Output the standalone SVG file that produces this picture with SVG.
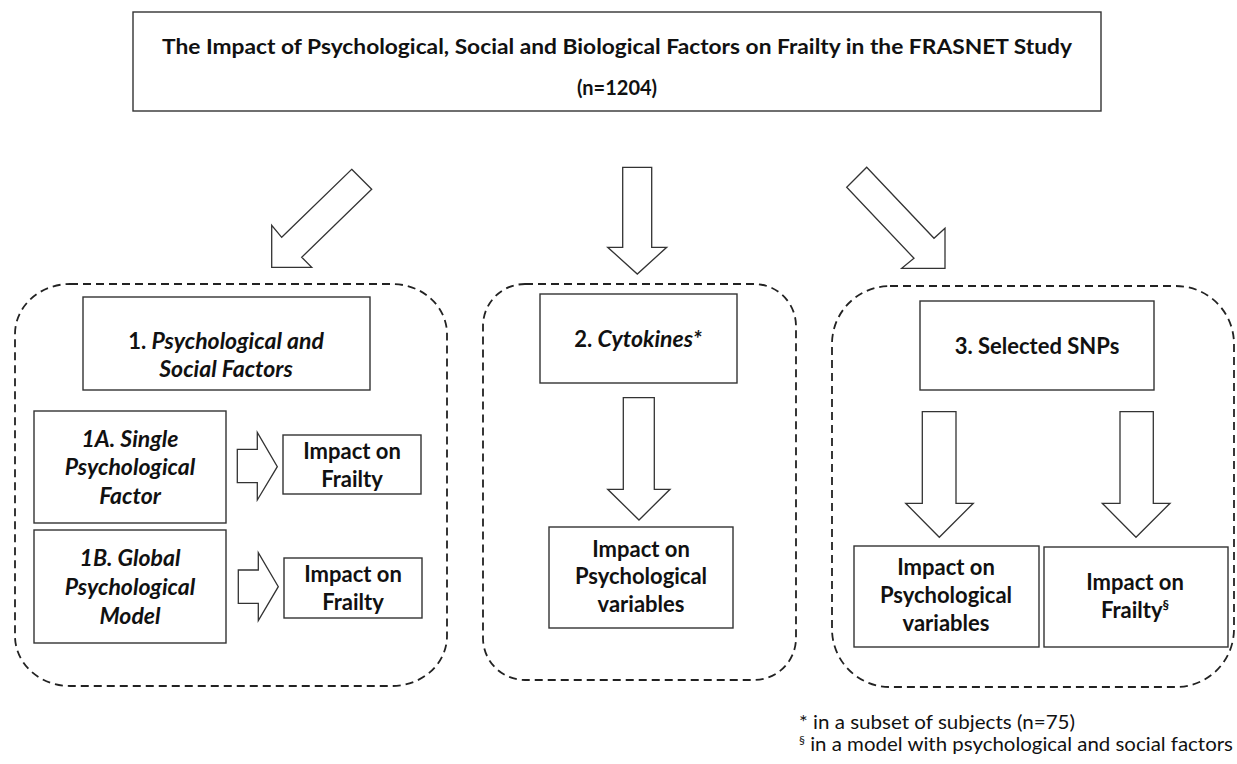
<svg xmlns="http://www.w3.org/2000/svg" width="1237" height="764" viewBox="0 0 1237 764">
<style>
  .box { fill: #fff; stroke: #333; stroke-width: 1.4; }
  .group { fill: none; stroke: #222; stroke-width: 1.8; stroke-dasharray: 8 5; }
  .arrow { fill: #fff; stroke: #333; stroke-width: 1.3; stroke-linejoin: miter; }
  text { font-family: Lato, "Liberation Sans", sans-serif; fill: #111; text-anchor: middle; }
  .t { font-size: 20px; font-weight: bold; }
  .n { font-size: 22px; font-weight: bold; }
  .ni { font-size: 23px; font-weight: bold; font-style: italic; }
  .fn { font-size: 19px; text-anchor: start; }
</style>
<rect width="1237" height="764" fill="#fff"/>

<g id="groups">
  <rect class="group" x="15" y="284" width="432" height="402" rx="55" ry="50"/>
  <rect class="group" x="483" y="284" width="313" height="396" rx="42" ry="42"/>
  <rect class="group" x="832" y="286" width="402" height="401" rx="58" ry="58"/>
</g>

<g id="title">
  <rect class="box" x="133" y="12" width="968" height="99"/>
  <text class="t" x="617" y="54" textLength="910" lengthAdjust="spacingAndGlyphs">The Impact of Psychological, Social and Biological Factors on Frailty in the FRASNET Study</text>
  <text class="t" x="617" y="95">(n=1204)</text>
</g>

<g id="connectors">
  <polygon class="arrow" points="351.7,169.3 371.7,189.3 301.7,257.3 311.7,267.3 271.7,267.3 271.7,225.3 281.7,237.3"/>
  <polygon class="arrow" points="622.7,167.3 651.7,167.3 651.7,247.3 666.7,247.3 637.3,274 607.7,247.3 622.7,247.3"/>
  <polygon class="arrow" points="866.7,167.3 934,238.3 945,228.3 945,268.3 901.7,268.3 914,258.3 846.7,187.3"/>
  <polygon class="arrow" points="237.3,449.3 257.3,449.3 257.3,432.3 277.3,466.7 257.3,500 257.3,482.7 237.3,482.7"/>
  <polygon class="arrow" points="238.3,570 258.3,570 258.3,552.7 278.3,586.7 258.3,620.7 258.3,603.3 238.3,603.3"/>
  <polygon class="arrow" points="623.3,397.7 654.3,397.7 654.3,489.3 670,489.3 639,520 607.7,489.3 623.3,489.3"/>
  <polygon class="arrow" points="922.3,411.7 956,411.7 956,503.3 973.3,503.3 939.3,537.3 905.7,503.3 922.3,503.3"/>
  <polygon class="arrow" points="1120,411.7 1153.3,411.7 1153.3,503.3 1170,503.3 1136,537.3 1102.3,503.3 1120,503.3"/>
</g>

<g id="node-psychsocial">
  <rect class="box" x="83" y="297" width="287" height="93"/>
  <text class="n" x="226" y="349">1. <tspan font-style="italic" font-size="23">Psychological and</tspan></text>
  <text class="ni" x="226" y="377">Social Factors</text>
</g>

<g id="node-1a">
  <rect class="box" x="34" y="411" width="192" height="112"/>
  <text class="ni" x="130" y="447">1A. Single</text>
  <text class="ni" x="130" y="475">Psychological</text>
  <text class="ni" x="130" y="504">Factor</text>
</g>

<g id="node-1a-impact">
  <rect class="box" x="283" y="435" width="138" height="59"/>
  <text class="n" x="352" y="459">Impact on</text>
  <text class="n" x="352" y="487">Frailty</text>
</g>

<g id="node-1b">
  <rect class="box" x="34" y="530" width="192" height="113"/>
  <text class="ni" x="130" y="566">1B. Global</text>
  <text class="ni" x="130" y="595">Psychological</text>
  <text class="ni" x="130" y="624">Model</text>
</g>

<g id="node-1b-impact">
  <rect class="box" x="284" y="558" width="138" height="60"/>
  <text class="n" x="353" y="582">Impact on</text>
  <text class="n" x="353" y="610">Frailty</text>
</g>

<g id="node-cytokines">
  <rect class="box" x="540" y="294" width="197" height="89"/>
  <text class="n" x="638" y="347">2. <tspan font-style="italic" font-size="23">Cytokines*</tspan></text>
</g>

<g id="node-cyto-impact">
  <rect class="box" x="549" y="527" width="184" height="101"/>
  <text class="n" x="641" y="557">Impact on</text>
  <text class="n" x="641" y="584">Psychological</text>
  <text class="n" x="641" y="612">variables</text>
</g>

<g id="node-snps">
  <rect class="box" x="920" y="301" width="234" height="89"/>
  <text class="n" x="1037" y="354">3. Selected SNPs</text>
</g>

<g id="node-snp-psych">
  <rect class="box" x="854" y="546" width="185" height="101"/>
  <text class="n" x="946" y="575">Impact on</text>
  <text class="n" x="946" y="603">Psychological</text>
  <text class="n" x="946" y="631">variables</text>
</g>

<g id="node-snp-frailty">
  <rect class="box" x="1044" y="547" width="184" height="100" stroke-width="1.8"/>
  <text class="n" x="1135" y="590">Impact on</text>
  <text class="n" x="1135" y="618">Frailty<tspan font-size="13" dy="-8">§</tspan></text>
</g>

<g id="footnotes">
  <text class="fn" x="799" y="729" textLength="276" lengthAdjust="spacingAndGlyphs">* in a subset of subjects (n=75)</text>
  <text class="fn" x="799" y="751"><tspan font-size="12" dy="-7">§</tspan><tspan dy="7" textLength="428" lengthAdjust="spacingAndGlyphs"> in a model with psychological and social factors</tspan></text>
</g>
</svg>
